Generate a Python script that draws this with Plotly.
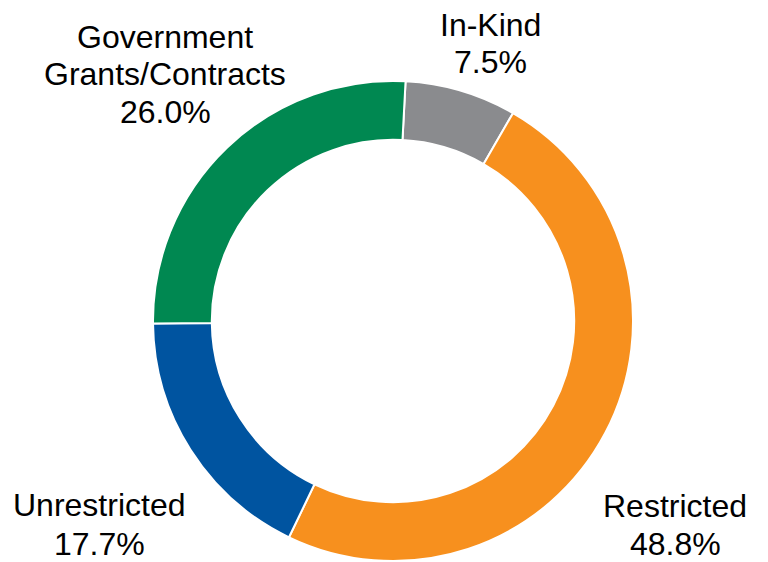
import plotly.graph_objects as go

labels = ["In-Kind", "Restricted", "Unrestricted", "Government<br>Grants/Contracts"]
values = [7.5, 48.8, 17.7, 26.0]
colors = ["#8A8B8E", "#F7901E", "#0054A0", "#008851"]

W, H = 768, 562
OFF = 8  # page body margin offset

cx, cy, R = 393 - OFF, 321 - OFF, 240
fig = go.Figure(go.Pie(
    labels=labels, values=values, hole=0.755, sort=False, direction="clockwise",
    rotation=3, marker=dict(colors=colors, line=dict(color="white", width=2)),
    textinfo="none", hoverinfo="label+percent",
    domain=dict(x=[(cx - R)/W, (cx + R)/W], y=[1 - (cy + R)/H, 1 - (cy - R)/H]),
))

# label anchor: (center x, y of first line), line spacing
label_pos = [(490, 25, 37), (675, 506, 38), (99, 505, 39), (165, 37, 37.5)]
anns = []
for lab, v, (px, py, sp) in zip(labels, values, label_pos):
    lines = lab.split("<br>") + [f"{v:.1f}%"]
    for i, ln in enumerate(lines):
        anns.append(dict(x=(px - OFF)/W, y=1 - (py + i*sp - OFF)/H, xref="paper", yref="paper",
                         text=ln, showarrow=False, borderpad=0,
                         xanchor="center", yanchor="middle", align="center",
                         font=dict(family="Liberation Sans, Arial", size=32, color="black")))

fig.update_layout(width=W, height=H, margin=dict(l=0, r=0, t=0, b=0),
                  showlegend=False, paper_bgcolor="white", annotations=anns)
fig.write_html("out.html")
